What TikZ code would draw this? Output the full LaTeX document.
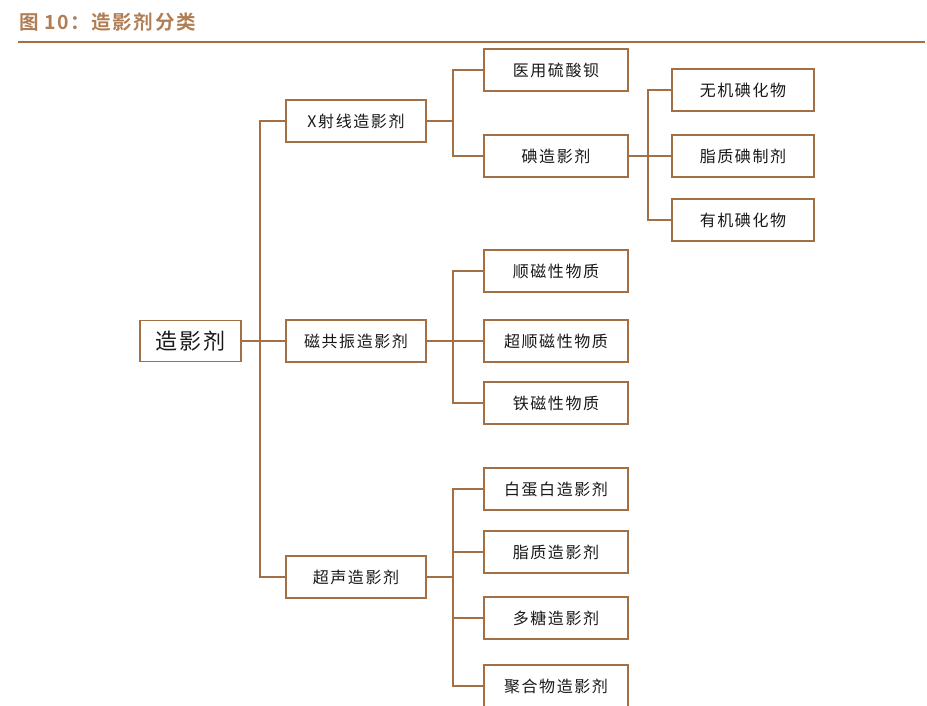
\documentclass[tikz,border=0pt]{standalone}
\usepackage{fontspec}
\setmainfont{Noto Sans CJK SC}
\newfontfamily\boxfont[LetterSpace=10]{Noto Sans CJK SC}
\newfontfamily\titlefont[LetterSpace=8,BoldFont={Noto Sans CJK SC Bold}]{Noto Sans CJK SC}
\definecolor{brn}{RGB}{163,112,70}
\definecolor{ttl}{RGB}{176,125,84}
\begin{document}
\begin{tikzpicture}[x=1pt,y=-1pt,
  box/.style={draw=brn,line width=1.6pt,fill=white,minimum width=142pt,minimum height=42pt,inner sep=0pt,
    font=\boxfont\fontsize{16pt}{19pt}\selectfont,text=black!90},
  rootbox/.style={box,minimum width=101pt,minimum height=41pt,font=\boxfont\fontsize{22pt}{25pt}\selectfont},
  conn/.style={draw=brn,line width=1.6pt}]
\useasboundingbox (0,0) rectangle (927,705);
\node[anchor=west,text=ttl,font=\titlefont\bfseries\fontsize{19.5pt}{22pt}\selectfont,inner sep=0pt] (title) at (19,22) {图 10：造影剂分类};
\coordinate (hl) at (18,42); \coordinate (hr) at (925,42);
\draw[draw=brn,line width=1.2pt] (hl) -- (hr);

\node[rootbox] (root) at (190.5,341) {造影剂};
\node[box,minimum width=140pt] (xr) at (356,121) {X射线造影剂};
\node[box,minimum width=140pt] (mr) at (356,341) {磁共振造影剂};
\node[box,minimum width=140pt] (us) at (356,577) {超声造影剂};

\node[box,minimum width=144pt] (ba) at (556,70) {医用硫酸钡};
\node[box,minimum width=144pt] (io) at (556,156) {碘造影剂};
\node[box] (i1) at (743,90) {无机碘化物};
\node[box] (i2) at (743,156) {脂质碘制剂};
\node[box] (i3) at (743,220) {有机碘化物};

\node[box,minimum width=144pt] (m1) at (556,271) {顺磁性物质};
\node[box,minimum width=144pt] (m2) at (556,341) {超顺磁性物质};
\node[box,minimum width=144pt] (m3) at (556,403) {铁磁性物质};

\node[box,minimum width=144pt] (u1) at (556,489) {白蛋白造影剂};
\node[box,minimum width=144pt] (u2) at (556,552) {脂质造影剂};
\node[box,minimum width=144pt] (u3) at (556,618) {多糖造影剂};
\node[box,minimum width=144pt] (u4) at (556,686) {聚合物造影剂};

% root to level 1
\draw[conn] (root.east) -- (260,341);
\draw[conn] (xr.west) -| (260,341) |- (us.west);
\draw[conn] (260,341) -- (mr.west);

% X-ray branch
\draw[conn] (xr.east) -- (453,121);
\draw[conn] (ba.west) -| (453,121) |- (io.west);
\draw[conn] (io.east) -- (i2.west);
\draw[conn] (i1.west) -| (648,156) |- (i3.west);

% MRI branch
\draw[conn] (mr.east) -- (m2.west);
\draw[conn] (m1.west) -| (453,341) |- (m3.west);

% US branch
\draw[conn] (us.east) -- (453,577);
\draw[conn] (u1.west) -| (453,552) |- (u4.west);
\draw[conn] (453,552) -- (u2.west);
\draw[conn] (453,618) -- (u3.west);
\end{tikzpicture}
\end{document}
